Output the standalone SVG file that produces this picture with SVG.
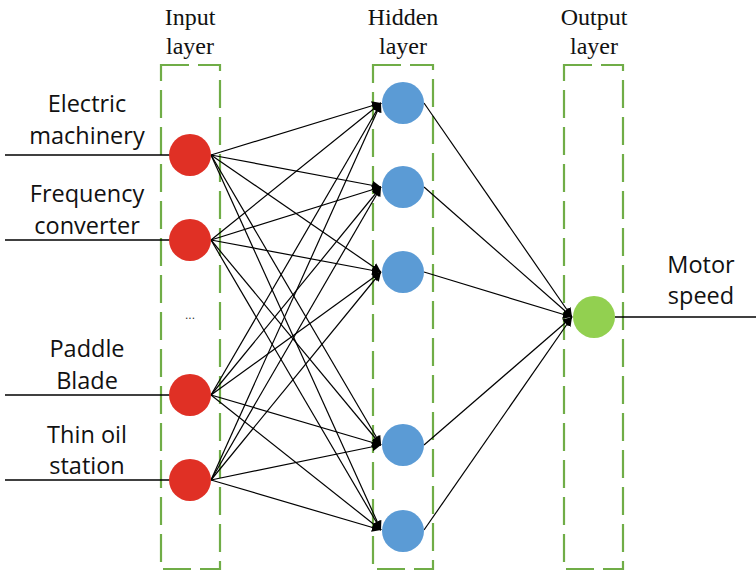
<svg xmlns="http://www.w3.org/2000/svg" width="756" height="573" viewBox="0 0 756 573">
<defs>
<style>
.box{fill:none;stroke:#70AD47;stroke-width:2.2;stroke-dasharray:28 9}
.in{fill:#E03025}
.hid{fill:#5B9BD5}
.out{fill:#92D050}
.ln{stroke:#000;stroke-width:1.3;fill:none}
.ar{stroke:#000;stroke-width:1.2;fill:none;marker-end:url(#ah)}
.ttl{font-family:"Liberation Serif",serif;font-size:24px;fill:#111;text-anchor:middle}
.lbl{font-family:"Open Sans","Liberation Sans",sans-serif;font-size:23.5px;fill:#111;text-anchor:middle}
</style>
<marker id="ah" viewBox="0 0 10 10" refX="10" refY="5" markerWidth="9" markerHeight="9" markerUnits="userSpaceOnUse" orient="auto">
<path d="M0,0 L10,5 L0,10 z" fill="#000"/>
</marker>
</defs>
<rect width="756" height="573" fill="#fff"/>
<g id="layer-boxes">
<rect class="box" x="161" y="65" width="59" height="504"/>
<rect class="box" x="373" y="65" width="60" height="504"/>
<rect class="box" x="564" y="65" width="59" height="504"/>
</g>
<g id="titles">
<text class="ttl" x="190" y="25">Input</text>
<text class="ttl" x="190" y="54">layer</text>
<text class="ttl" x="403" y="25">Hidden</text>
<text class="ttl" x="403" y="54">layer</text>
<text class="ttl" x="594" y="25">Output</text>
<text class="ttl" x="594" y="54">layer</text>
</g>
<g id="connectors">
<line class="ln" x1="5" y1="155" x2="170" y2="155"/>
<line class="ln" x1="5" y1="240" x2="170" y2="240"/>
<line class="ln" x1="5" y1="395" x2="170" y2="395"/>
<line class="ln" x1="5" y1="480" x2="170" y2="480"/>
<line class="ln" x1="615" y1="317" x2="756" y2="317"/>
<line class="ar" x1="211" y1="155" x2="381" y2="103"/>
<line class="ar" x1="211" y1="155" x2="381" y2="187"/>
<line class="ar" x1="211" y1="155" x2="381" y2="272"/>
<line class="ar" x1="211" y1="155" x2="381" y2="445"/>
<line class="ar" x1="211" y1="155" x2="381" y2="530"/>
<line class="ar" x1="211" y1="240" x2="381" y2="103"/>
<line class="ar" x1="211" y1="240" x2="381" y2="187"/>
<line class="ar" x1="211" y1="240" x2="381" y2="272"/>
<line class="ar" x1="211" y1="240" x2="381" y2="445"/>
<line class="ar" x1="211" y1="240" x2="381" y2="530"/>
<line class="ar" x1="211" y1="395" x2="381" y2="103"/>
<line class="ar" x1="211" y1="395" x2="381" y2="187"/>
<line class="ar" x1="211" y1="395" x2="381" y2="272"/>
<line class="ar" x1="211" y1="395" x2="381" y2="445"/>
<line class="ar" x1="211" y1="395" x2="381" y2="530"/>
<line class="ar" x1="211" y1="480" x2="381" y2="103"/>
<line class="ar" x1="211" y1="480" x2="381" y2="187"/>
<line class="ar" x1="211" y1="480" x2="381" y2="272"/>
<line class="ar" x1="211" y1="480" x2="381" y2="445"/>
<line class="ar" x1="211" y1="480" x2="381" y2="530"/>
<line class="ar" x1="424" y1="103" x2="572" y2="317"/>
<line class="ar" x1="424" y1="187" x2="572" y2="317"/>
<line class="ar" x1="424" y1="272" x2="572" y2="317"/>
<line class="ar" x1="424" y1="445" x2="572" y2="317"/>
<line class="ar" x1="424" y1="530" x2="572" y2="317"/>
</g>
<g id="in1"><circle class="in" cx="190" cy="155" r="21"/><text class="lbl" x="87" y="112">Electric</text><text class="lbl" x="87" y="144">machinery</text></g>
<g id="in2"><circle class="in" cx="190" cy="240" r="21"/><text class="lbl" x="87" y="202">Frequency</text><text class="lbl" x="87" y="234">converter</text></g>
<g id="ellipsis"><text x="190" y="319" font-family="Liberation Sans,sans-serif" font-size="12" text-anchor="middle" fill="#333">...</text></g>
<g id="in3"><circle class="in" cx="190" cy="395" r="21"/><text class="lbl" x="87" y="357">Paddle</text><text class="lbl" x="87" y="389">Blade</text></g>
<g id="in4"><circle class="in" cx="190" cy="480" r="21"/><text class="lbl" x="87" y="443">Thin oil</text><text class="lbl" x="87" y="474">station</text></g>
<g id="h1"><circle class="hid" cx="403" cy="103" r="21"/></g>
<g id="h2"><circle class="hid" cx="403" cy="187" r="21"/></g>
<g id="h3"><circle class="hid" cx="403" cy="272" r="21"/></g>
<g id="h4"><circle class="hid" cx="403" cy="445" r="21"/></g>
<g id="h5"><circle class="hid" cx="403" cy="531" r="21"/></g>
<g id="out"><circle class="out" cx="594" cy="317" r="21"/><text class="lbl" x="701" y="273">Motor</text><text class="lbl" x="701" y="304">speed</text></g>
</svg>
